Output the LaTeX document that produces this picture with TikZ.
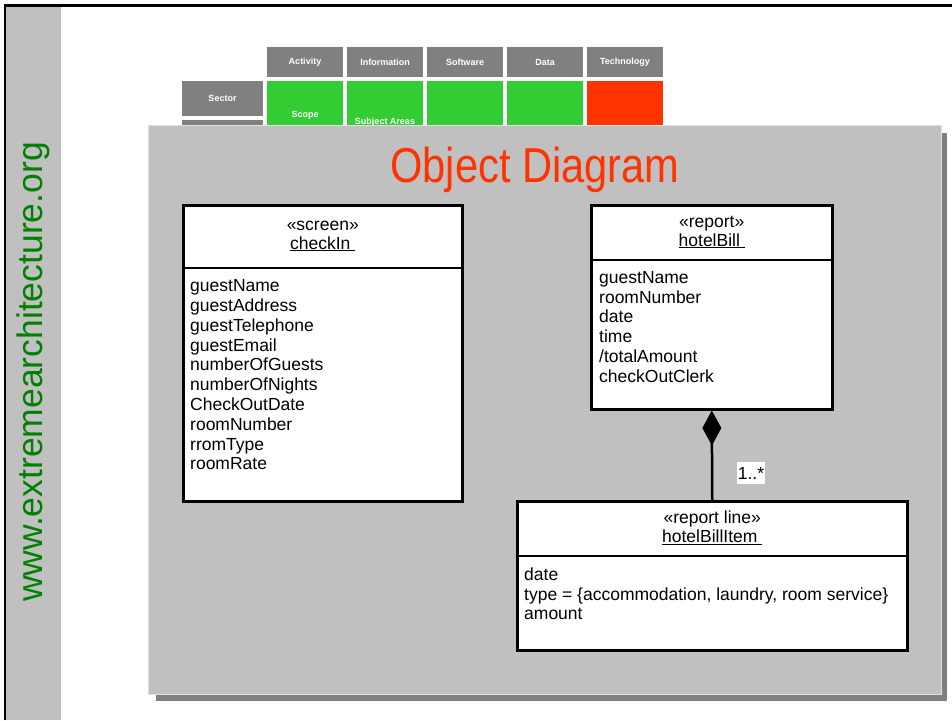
\documentclass[tikz,border=0pt]{standalone}
\usepackage{fontspec}
\setmainfont{Liberation Sans}
\usetikzlibrary{arrows.meta}
\definecolor{panelgray}{HTML}{C0C0C0}
\definecolor{cellgray}{HTML}{808080}
\definecolor{cellgreen}{HTML}{33CC33}
\definecolor{cellred}{HTML}{FF3300}
\definecolor{urlgreen}{HTML}{008000}

\begin{document}
\begin{tikzpicture}[x=1pt, y=-1pt,
    cell/.style={fill=cellgray, text=white, font=\fontsize{9}{10}\selectfont\bfseries, inner sep=0pt, minimum width=76pt, minimum height=30pt},
    celltext/.style={text=white, font=\fontsize{9}{10}\selectfont\bfseries, inner sep=0pt},
    objbox/.style={draw=black, line width=2.5pt, fill=white, anchor=north west, inner sep=0pt},
    stereo/.style={align=center, font=\fontsize{17.5}{19}\selectfont, inner sep=0pt},
    attrs/.style={align=left, anchor=north west, font=\fontsize{17.5}{19.8}\selectfont, inner sep=0pt}]
    \useasboundingbox (0,0) rectangle (952,720);

    % Frame and side bar
    \fill[panelgray] (6,7) rectangle (61,720);
    \draw[line width=2.5pt] (5,720) -- (5,5.5) -- (952,5.5);
    \node[rotate=90, text=urlgreen, font=\fontsize{35.5}{40}\selectfont, inner sep=0pt] (url) at (33,372) {www.extremearchitecture.org};

    % Framework header
    \foreach \name [count=\i from 0] in {Activity,Information,Software,Data,Technology} {
        \node[cell] (col\i) at ({305+80*\i},62) {\name};
    }
    \foreach \c [count=\i from 0] in {cellgreen,cellgreen,cellgreen,cellgreen,cellred} {
        \fill[\c] ({267+80*\i},81) rectangle ++(76,50);
    }
    \node[cell, minimum width=81pt, minimum height=35pt] (sector) at (222.5,98.5) {Sector};
    \fill[cellgray] (182,120) rectangle (263,131);
    \node[celltext] (scope) at (305,115) {Scope};
    \node[celltext] (subject) at (385,122) {Subject Areas};

    % Panel
    \fill[cellgray] (156,133) rectangle (947,701);
    \filldraw[fill=panelgray, draw=white!88!black, line width=1pt] (148,125) rectangle (941,694);
    \node[anchor=base, text=cellred, font=\fontsize{49}{50}\selectfont, inner sep=0pt] (title) at (535,182) {\scalebox{0.85}[1]{Object Diagram}};

    % checkIn
    \node[objbox, minimum width=279pt, minimum height=296pt] (checkIn) at (182,204) {};
    \draw[line width=2.5pt] ([yshift=-64pt]checkIn.north west) -- ([yshift=-64pt]checkIn.north east);
    \node[stereo] (checkInName) at ([yshift=-32pt]checkIn.north) {«screen»\\\underline{checkIn\ }};
    \node[attrs] (checkInAttrs) at ([xshift=8pt, yshift=-75.5pt]checkIn.north west) {guestName\\guestAddress\\guestTelephone\\guestEmail\\numberOfGuests\\numberOfNights\\CheckOutDate\\roomNumber\\rromType\\roomRate};

    % hotelBill
    \node[objbox, minimum width=241pt, minimum height=204pt] (bill) at (590,204) {};
    \draw[line width=2.5pt] ([yshift=-56pt]bill.north west) -- ([yshift=-56pt]bill.north east);
    \node[stereo] (billName) at ([yshift=-28pt]bill.north) {«report»\\\underline{hotelBill\ }};
    \node[attrs] (billAttrs) at ([xshift=9pt, yshift=-67pt]bill.north west) {guestName\\roomNumber\\date\\time\\/totalAmount\\checkOutClerk};

    % hotelBillItem
    \node[objbox, minimum width=390pt, minimum height=149pt] (item) at (516,500) {};
    \draw[line width=2.5pt] ([yshift=-56pt]item.north west) -- ([yshift=-56pt]item.north east);
    \node[stereo] (itemName) at ([yshift=-28pt]item.north) {«report line»\\\underline{hotelBillItem\ }};
    \node[attrs] (itemAttrs) at ([xshift=8pt, yshift=-67.5pt]item.north west) {date\\type = \{accommodation, laundry, room service\}\\amount};

    % Composition
    \draw[line width=2.5pt, -{Diamond[length=35pt, width=19pt]}] (item.north) -- (bill.south);
    \node[fill=white, inner xsep=1pt, minimum height=22pt, font=\fontsize{17.5}{19}\selectfont] (mult) at (751,473) {1..*};
\end{tikzpicture}
\end{document}
